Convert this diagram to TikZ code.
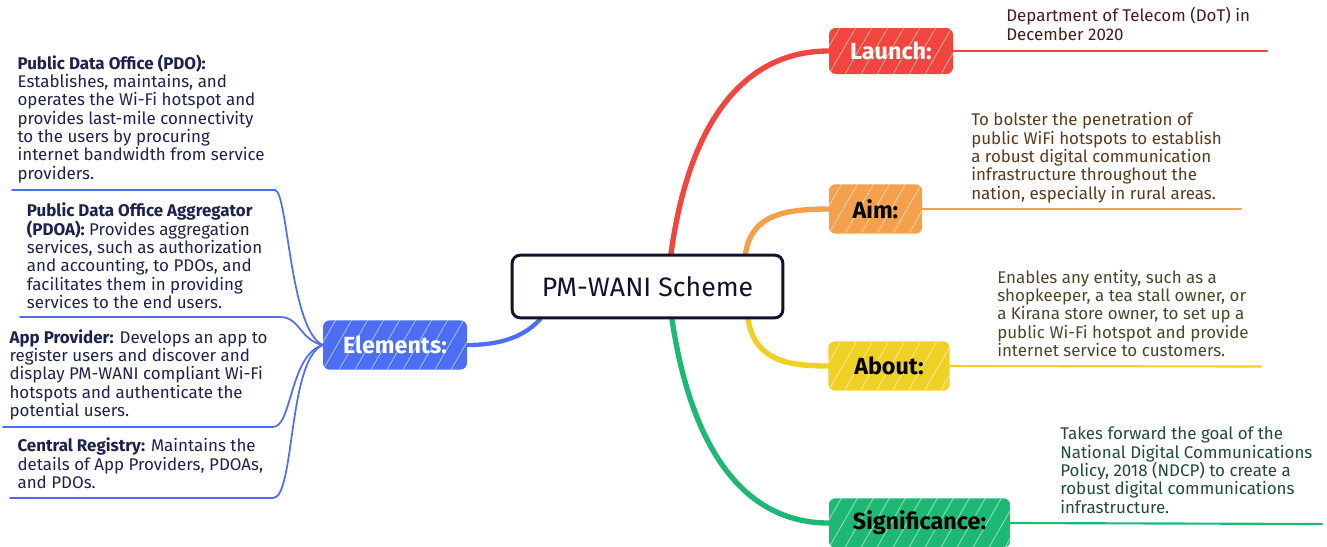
\documentclass[tikz,border=0pt]{standalone}
\usepackage{fontspec}
\setmainfont{Fira Sans}
\usetikzlibrary{calc,backgrounds}
\definecolor{cred}{HTML}{F2453D}
\definecolor{corange}{HTML}{F5A04A}
\definecolor{cyellow}{HTML}{F0D024}
\definecolor{cgreen}{HTML}{1DB974}
\definecolor{cblue}{HTML}{4C6EF5}
\definecolor{cnavy}{HTML}{12122E}
\definecolor{ltext}{HTML}{1C2150}
\definecolor{tlaunch}{HTML}{4A1A1A}
\definecolor{taim}{HTML}{5A3A1A}
\definecolor{tabout}{HTML}{4D4528}
\definecolor{tsig}{HTML}{1F4A3C}
\begin{document}
\begin{tikzpicture}[x=0.75pt,y=-0.75pt,
  hatch/.style={path picture={\foreach \k in {-60,-48,...,160}
      \draw[white,opacity=.55,line width=.6pt]
      ([xshift=\k pt]path picture bounding box.south west) -- ++(60:3cm);}},
  lbl/.style={rounded corners=5pt, minimum height=37pt, inner sep=0pt,
      font=\fontsize{17.5}{19}\selectfont\bfseries, hatch},
  centerbox/.style={draw=cnavy, line width=2.2pt, rounded corners=6pt, fill=white,
      minimum width=203pt, minimum height=47pt, inner sep=0pt,
      font=\fontsize{20}{22}\selectfont, text=cnavy},
  txt/.style={anchor=base west, align=left, inner sep=0pt,
      font=\fontsize{12.7}{13.75}\selectfont},
  branch/.style={line width=4pt, line cap=round},
  uline/.style={line width=1.6pt, line cap=round},
  thin/.style={line width=1.3pt, line cap=round, cblue}
]
\useasboundingbox (0,0) rectangle (1327,546);

% central and label nodes
\node[centerbox] (center) at (647.5,286.5) {PM-WANI Scheme};
\node[lbl, fill=cred, text=white, minimum width=93pt, minimum height=34.5pt] (launch) at (891,51) {Launch:};
\node[lbl, fill=corange, text=black, minimum width=70pt] (aim) at (875.5,209) {Aim:};
\node[lbl, fill=cyellow, text=black, minimum width=91pt] (about) at (889,366) {About:};
\node[lbl, fill=cgreen, text=black, minimum width=136pt] (sig) at (919.5,523) {Significance:};
\node[lbl, fill=cblue, text=white, minimum width=108pt] (elements) at (395,345) {Elements:};

% right texts (anchored at the baseline of their last line)
\node[txt, text=tlaunch] (tl) at (1006,40) {Department of Telecom (DoT) in\\December 2020};
\node[txt, text=taim] (ta) at (971,199.3) {To bolster the penetration of\\public WiFi hotspots to establish\\a robust digital communication\\infrastructure throughout the\\nation, especially in rural areas.};
\node[txt, text=tabout] (tb) at (997,356.6) {Enables any entity, such as a\\shopkeeper, a tea stall owner, or\\a Kirana store owner, to set up a\\public Wi-Fi hotspot and provide\\internet service to customers.};
\node[txt, text=tsig] (ts) at (1060,513.3) {Takes forward the goal of the\\National Digital Communications\\Policy, 2018 (NDCP) to create a\\robust digital communications\\infrastructure.};

% left texts
\node[txt, text=ltext] (pdo) at (17.3,179.3) {\textbf{Public Data Office (PDO):}\\Establishes, maintains, and\\operates the Wi-Fi hotspot and\\provides last-mile connectivity\\to the users by procuring\\internet bandwidth from service\\providers.};
\node[txt, text=ltext] (pdoa) at (26.7,308.4) {\textbf{Public Data Office Aggregator}\\\textbf{(PDOA):} Provides aggregation\\services, such as authorization\\and accounting, to PDOs, and\\facilitates them in providing\\services to the end users.};
\node[txt, text=ltext] (app) at (9.3,416.6) {\textbf{App Provider:} Develops an app to\\register users and discover and\\display PM-WANI compliant Wi-Fi\\hotspots and authenticate the\\potential users.};
\node[txt, text=ltext] (reg) at (17.3,488.4) {\textbf{Central Registry:} Maintains the\\details of App Providers, PDOAs,\\and PDOs.};

% free ends of underlines
\coordinate (launchend) at (1267,51);
\coordinate (aimend) at (1241,209);
\coordinate (aboutend) at (1261,366.5);
\coordinate (sigend) at (1322,524);
\coordinate (pdoR) at (275,190);
\coordinate (pdoL) at (12,190);
\coordinate (pdoaR) at (280,317);
\coordinate (pdoaL) at (20,317);
\coordinate (appR) at (273,427);
\coordinate (appL) at (3,427);
\coordinate (regR) at (273,498);
\coordinate (regL) at (10,498);

\begin{scope}[on background layer]
  \draw[branch, cred] ($(center.north)+(23.5,0)$) .. controls +(17,-125) and +(-89,0) .. (launch.west);
  \draw[branch, corange] ($(center.north)+(97.5,3)$) .. controls +(5,-40) and +(-49,0) .. (aim.west);
  \draw[branch, cyellow] ($(center.south)+(100.5,0)$) .. controls +(7,42) and +(-39,0) .. (about.west);
  \draw[branch, cgreen] ($(center.south)+(24.5,0)$) .. controls +(18,122) and +(-89,0) .. (sig.west);
  \draw[branch, cblue, line width=3.2pt] ($(center.south)+(-107.5,0)$) .. controls +(-20,22) and +(23,0) .. (elements.east);

  \draw[uline, cred] (launch.east) -- (launchend);
  \draw[uline, corange] (aim.east) -- (aimend);
  \draw[uline, cyellow] (about.east) -- (aboutend);
  \draw[uline, cgreen] (sig.east) -- (sigend);

  \draw[thin] (elements.west) .. controls +(-33,-15) and +(13,2) .. (pdoR) -- (pdoL);
  \draw[thin] (elements.west) .. controls +(-23,-5) and +(20,0) .. (pdoaR) -- (pdoaL);
  \draw[thin] (elements.west) .. controls +(-33,10) and +(19,0) .. (appR) -- (appL);
  \draw[thin] (elements.west) .. controls +(-35,15) and +(22,0) .. (regR) -- (regL);
\end{scope}
\end{tikzpicture}
\end{document}
